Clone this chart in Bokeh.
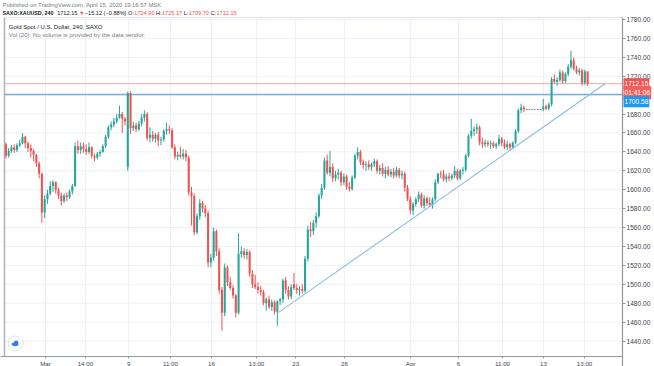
import numpy as np
from bokeh.plotting import figure
from bokeh.models import ColumnDataSource, FixedTicker, PrintfTickFormatter, Label, Range1d
from bokeh.embed import file_html
from bokeh.resources import INLINE

# ---------------- data ----------------
opens = [1648,1636,1641,1645,1642,1647,1649,1656,1649,1644,1641,1637,1628,1617,1576,1590,1596,1604,1608,1600,
         1594,1588,1594,1592,1598,1604,1646,1642,1646,1643,1640,1645,1636,1634,1638,1640,1646,1656,1666,1669,
         1672,1676,1680,1675,1624,1702,1665,1668,1664,1670,1676,1680,1655,1658,1654,1658,1652,1653,1662,1664,
         1663,1645,1635,1637,1635,1638,1634,1597,1593,1555,1572,1586,1580,1575,1523,1528,1556,1535,1494,1470,
         1518,1502,1496,1488,1470,1532,1535,1531,1534,1511,1500,1497,1494,1492,1480,1484,1476,1481,1471,1482,
         1484,1504,1494,1487,1500,1496,1494,1495,1493,1527,1558,1556,1565,1572,1594,1602,1631,1618,1624,1612,
         1616,1618,1608,1614,1603,1601,1613,1636,1640,1629,1626,1627,1624,1627,1630,1620,1623,1617,1621,1616,
         1619,1615,1621,1615,1617,1602,1590,1578,1585,1590,1595,1583,1591,1586,1584,1590,1608,1617,1616,1611,
         1614,1612,1615,1620,1612,1620,1621,1636,1657,1662,1664,1666,1650,1648,1650,1648,1649,1646,1648,1654,
         1649,1645,1648,1645,1650,1662,1684,1687,1685,1685,1684.8,1685,1685.1,1684.9,1685,1688,1686,1690,1717,
         1714,1716,1724,1715,1722,1730,1737,1728,1724,1726,1713,1724.90]
highs = [1650,1644,1647,1648,1649,1653,1660,1657,1651,1648,1643,1638,1630,1618,1594,1600,1609,1610,1609,1602,
         1597,1596,1597,1600,1606,1650,1652,1650,1650,1648,1650,1646,1638,1640,1642,1648,1658,1668,1672,1676,
         1680,1689,1682,1677,1704,1704,1672,1671,1673,1680,1684,1682,1666,1662,1660,1661,1656,1664,1671,1668,
         1665,1648,1640,1645,1643,1642,1636,1603,1596,1575,1590,1588,1584,1578,1532,1560,1558,1538,1497,1522,
         1520,1508,1499,1490,1554,1540,1538,1537,1536,1515,1510,1502,1498,1494,1486,1488,1484,1483,1483,1486,
         1506,1508,1498,1500,1512,1500,1498,1500,1530,1562,1566,1568,1576,1596,1606,1634,1637,1641,1628,1620,
         1622,1620,1617,1616,1608,1615,1638,1645,1642,1632,1630,1631,1629,1633,1632,1626,1628,1624,1625,1622,
         1623,1624,1623,1620,1619,1605,1593,1587,1592,1598,1597,1594,1593,1592,1592,1611,1618,1620,1621,1617,
         1618,1617,1625,1622,1622,1624,1638,1659,1675,1667,1670,1668,1655,1653,1652,1652,1651,1650,1658,1656,
         1653,1652,1650,1651,1664,1686,1691,1689,1685.5,1685.4,1685.3,1685.5,1685.4,1685.3,1696,1690,1692,1719,1722,
         1719,1727,1726,1724,1733,1747,1740,1731,1729,1728,1727,1725.17]
lows = [1633,1634,1639,1639,1640,1645,1648,1644,1640,1634,1630,1624,1612,1565,1570,1585,1594,1598,1596,1590,
        1583,1586,1588,1590,1595,1603,1638,1638,1639,1637,1638,1633,1630,1632,1635,1639,1644,1654,1663,1666,
        1670,1675,1660,1668,1620,1659,1662,1661,1662,1667,1672,1652,1650,1651,1650,1646,1647,1651,1658,1659,
        1643,1632,1631,1633,1632,1630,1594,1562,1552,1553,1568,1576,1571,1518,1518,1525,1530,1490,1451,1466,
        1498,1494,1485,1465,1468,1528,1527,1526,1508,1496,1495,1490,1488,1478,1472,1474,1472,1468,1456,1478,
        1480,1490,1484,1484,1494,1490,1488,1490,1491,1524,1550,1552,1560,1570,1590,1600,1616,1614,1608,1609,
        1611,1604,1605,1600,1598,1599,1611,1632,1626,1622,1620,1621,1620,1624,1617,1616,1614,1612,1614,1613,
        1612,1613,1612,1611,1598,1588,1574,1573,1582,1587,1581,1580,1583,1582,1580,1588,1606,1612,1609,1608,
        1609,1610,1612,1610,1610,1616,1619,1634,1654,1657,1659,1647,1644,1645,1645,1643,1644,1643,1646,1646,
        1643,1642,1642,1643,1648,1660,1681,1682,1684.5,1684.6,1684.5,1684.7,1684.6,1684.5,1683,1684,1684,1688,1712,
        1710,1714,1712,1713,1720,1728,1726,1722,1721,1710,1711,1709.70]
closes = [1636,1641,1645,1642,1647,1649,1656,1649,1644,1641,1637,1628,1617,1576,1590,1596,1604,1608,1600,1594,
          1588,1594,1592,1598,1604,1646,1642,1646,1643,1640,1645,1636,1634,1638,1640,1646,1656,1666,1669,1672,
          1676,1680,1675,1672,1702,1665,1668,1664,1670,1676,1680,1655,1658,1654,1658,1652,1653,1662,1664,1663,
          1645,1635,1637,1635,1638,1634,1597,1593,1555,1572,1586,1580,1575,1523,1528,1556,1535,1494,1470,1518,
          1502,1496,1488,1470,1532,1535,1531,1534,1511,1500,1497,1494,1492,1480,1484,1476,1481,1471,1482,1484,
          1504,1494,1487,1497,1496,1494,1495,1493,1527,1558,1556,1565,1572,1594,1602,1631,1618,1624,1612,1616,
          1618,1608,1614,1603,1601,1613,1636,1640,1629,1626,1627,1624,1627,1630,1620,1623,1617,1621,1616,1619,
          1615,1621,1615,1617,1602,1590,1578,1585,1590,1595,1583,1591,1586,1584,1590,1608,1617,1616,1611,1614,
          1612,1615,1620,1612,1620,1621,1636,1657,1662,1664,1666,1650,1648,1650,1648,1649,1646,1648,1654,1649,
          1645,1648,1645,1650,1662,1684,1687,1685,1685,1684.8,1685,1685.1,1684.9,1685,1688,1686,1690,1717,1714,
          1716,1724,1715,1722,1730,1737,1728,1724,1726,1713,1725,1712.15]

prev_close = 1727.27
level_price = 1700.58
countdown = "01:41:06"
trend_x = [98.3, 216.3]
trend_y = [1470.0, 1712.0]

x_tick_pos = [14.3, 28.7, 44.3, 59.4, 74.2, 90.5, 104.6, 122.2, 146.1, 163.4, 179.3, 194.1, 208.9]
x_tick_labels = ["Mar", "14:00", "9", "11:00", "16", "13:00", "23", "26", "Apr", "6", "11:00", "13", "13:00"]
y_ticks = list(range(1440, 1781, 20))

# ---------------- layout (pixel geometry of the reference) ----------------
UP, DOWN = "#26a69a", "#ef5350"
DARK, GREY = "#131722", "#787b86"
FONT = "Liberation Sans"
W, H = 654, 366
PANE_L, PANE_R, PANE_T, PANE_B = 4.0, 622.0, 17.0, 356.0
X_PER_PX = 223.1 / 618.0
Y_PER_PX = 340.0 / 321.5

def dx(px):
    return -0.5 + (px - PANE_L) * X_PER_PX

def dy(py):
    return 1780.0 - (py - 19.0) * Y_PER_PX

o = np.array(opens, float); h = np.array(highs, float)
l = np.array(lows, float); c = np.array(closes, float)
idx = np.arange(len(o))
col = np.where(c >= o, UP, DOWN)
top = np.maximum(o, c); bot = np.minimum(o, c)
mid = (top + bot) / 2
thin = (top - bot) < 0.7
top = np.where(thin, mid + 0.35, top); bot = np.where(thin, mid - 0.35, bot)
src = ColumnDataSource(dict(x=idx, o=o, h=h, l=l, c=c, top=top, bot=bot, col=col))

p = figure(width=W, height=H, x_range=Range1d(dx(0), dx(W)), y_range=Range1d(dy(H), dy(0)),
           output_backend="svg", toolbar_location=None, y_axis_location="right",
           min_border=0, min_border_left=0, min_border_right=0, min_border_top=0, min_border_bottom=0)
p.outline_line_color = None
p.xgrid.visible = False
p.ygrid.visible = False

# axes sit on the pane edges
p.yaxis.fixed_location = dx(PANE_R)
p.yaxis.bounds = (dy(H), dy(PANE_T))
p.xaxis.fixed_location = dy(PANE_B)
p.xaxis.bounds = (dx(0), dx(PANE_R))
p.yaxis.ticker = FixedTicker(ticks=y_ticks)
p.yaxis.formatter = PrintfTickFormatter(format="%.2f")
p.xaxis.ticker = FixedTicker(ticks=x_tick_pos)
p.xaxis.major_label_overrides = dict(zip(x_tick_pos, x_tick_labels))
for ax in (p.xaxis[0], p.yaxis[0]):
    ax.axis_line_color = "#9598a1"
    ax.axis_line_width = 1.2
    ax.major_tick_line_color = "#9598a1"
    ax.minor_tick_line_color = None
    ax.major_tick_in = 0
    ax.major_label_text_font = FONT
    ax.major_label_text_color = "#434651"
p.yaxis.major_tick_out = 3
p.yaxis.major_label_standoff = 1
p.yaxis.major_label_text_font_size = "6.6px"
p.xaxis.major_tick_out = 2
p.xaxis.major_label_standoff = 1
p.xaxis.major_label_text_font_size = "6.2px"

# grid lines inside the pane only
p.segment(x0=[dx(PANE_L)] * len(y_ticks), y0=y_ticks, x1=[dx(PANE_R)] * len(y_ticks), y1=y_ticks,
          line_color="#eef0f5", line_width=1)
p.segment(x0=x_tick_pos, y0=[dy(PANE_B)] * len(x_tick_pos), x1=x_tick_pos, y1=[dy(PANE_T)] * len(x_tick_pos),
          line_color="#eef0f5", line_width=1)
# pane border (left and top)
p.segment(x0=[dx(PANE_L), dx(PANE_L)], y0=[dy(PANE_B), dy(PANE_T)], x1=[dx(PANE_L), dx(PANE_R)],
          y1=[dy(PANE_T), dy(PANE_T)], line_color=["#b2b5be", "#e0e3eb"], line_width=[1.6, 1])

# horizontal lines: last price and drawn level
p.segment(x0=[dx(PANE_L)], y0=[closes[-1]], x1=[dx(PANE_R)], y1=[closes[-1]], line_color="#f5a5a3", line_width=1)
p.segment(x0=[dx(PANE_L)], y0=[level_price], x1=[dx(PANE_R)], y1=[level_price], line_color="#78b0e2", line_width=1.5)

# candles
p.segment("x", "l", "x", "h", color="col", line_width=1, source=src)
p.vbar(x="x", width=0.74, top="top", bottom="bot", fill_color="col", line_color=None, source=src)

# trend line drawing
p.line(trend_x, trend_y, line_color="#8cbde8", line_width=1.1)

# price scale boxes
def box(text, y, bg):
    p.add_layout(Label(x=dx(PANE_R + 1), y=y, text=text, text_font=FONT, text_font_size="6.6px",
                       text_color="white", text_baseline="middle", text_align="left",
                       background_fill_color=bg, padding=(1, 3)))

box(f"{closes[-1]:.2f}", closes[-1], DOWN)
box(countdown, closes[-1] - 9.0 * Y_PER_PX, "#f0605d")
box(f"{level_price:.2f}", closes[-1] - 18.0 * Y_PER_PX, "#2196f3")

# header texts
W_EM = {'0': .556, '1': .556, '2': .556, '3': .556, '4': .556, '5': .556, '6': .556, '7': .556, '8': .556,
        '9': .556, '.': .278, ',': .278, ':': .278, ' ': .278, '(': .333, ')': .333, '%': .889, '-': .333,
        '\u2212': .584, '/': .278, '\u25bc': .77, 'A': .667, 'C': .722, 'D': .722, 'H': .722, 'L': .556,
        'O': .778, 'S': .667, 'U': .722, 'X': .667}

def text_w(s, size, bold=False):
    return sum(W_EM.get(ch, .556) for ch in s) * size * (1.06 if bold else 1.0)

HS = 5.6
p.add_layout(Label(x=dx(2), y=dy(4.2), text="Published on TradingView.com, April 15, 2020 19:16:57 MSK",
                   text_font=FONT, text_font_size="5.9px", text_color=GREY, text_baseline="alphabetic"))

chg = closes[-1] - prev_close
pct = chg / prev_close * 100
segs = [("SAXO:XAUUSD, 240", DARK, True, 1), (f"{closes[-1]:.2f}", DARK, False, 1), ("\u25bc", DOWN, False, 1),
        (f"\u2212{abs(chg):.2f} (\u2212{abs(pct):.2f}%)", DARK, False, 1),
        ("O:", DARK, False, 0), (f"{opens[-1]:.2f}", DOWN, False, 1),
        ("H:", DARK, False, 0), (f"{highs[-1]:.2f}", DOWN, False, 1),
        ("L:", DARK, False, 0), (f"{lows[-1]:.2f}", DOWN, False, 1),
        ("C:", DARK, False, 0), (f"{closes[-1]:.2f}", DOWN, False, 0)]
xpos = 2.0
for text, color, bold, gap in segs:
    size = 5.3 if bold else HS
    p.add_layout(Label(x=dx(xpos), y=dy(12.8), text=text, text_font=FONT, text_font_size=f"{size}px",
                       text_color=color, text_baseline="alphabetic",
                       text_font_style="bold" if bold else "normal"))
    xpos += text_w(text, size, bold) + gap * 0.278 * HS + (0.3 if gap == 0 else 0)

p.add_layout(Label(x=dx(8.3), y=dy(26.6), text="Gold Spot / U.S. Dollar, 240, SAXO", text_font=FONT,
                   text_font_size="6px", text_color=DARK, text_baseline="alphabetic"))
p.add_layout(Label(x=dx(8.3), y=dy(34.6), text="Vol (20): No volume is provided by the data vendor.",
                   text_font=FONT, text_font_size="6px", text_color=GREY, text_baseline="alphabetic"))

# TradingView logo bubble (decoration)
p.scatter([dx(15)], [dy(343)], size=15, fill_color="white", line_color="#e0e3eb", line_width=1)
p.ellipse([dx(14.6)], [dy(343.8)], width=7, height=3.5, width_units="screen", height_units="screen",
          fill_color="#2f80ed", line_color=None)
p.scatter([dx(15.6)], [dy(342.3)], size=4.5, fill_color="#2f80ed", line_color=None)

open("out.html", "w").write(file_html(p, INLINE))
